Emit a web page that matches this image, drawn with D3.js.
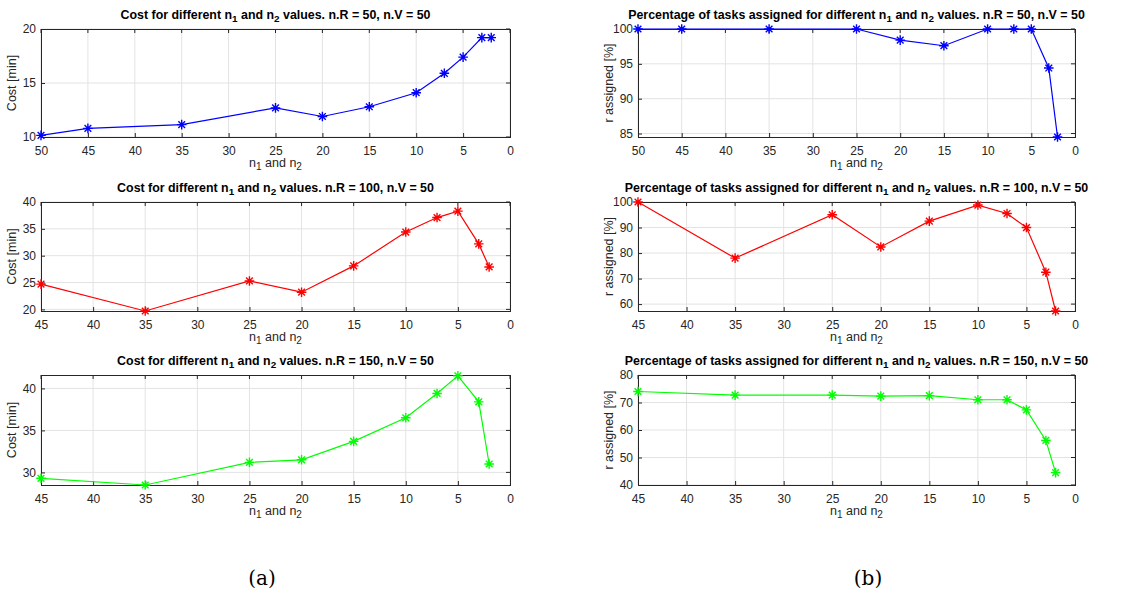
<!DOCTYPE html>
<html lang="en">
<head>
<meta charset="UTF-8">
<title>Cost and percentage assigned</title>
<script src="https://cdn.jsdelivr.net/npm/d3@7"></script>
<style>
    body { margin: 0; background: #fff; }
    text { font-family: 'Liberation Sans', Arial, sans-serif; fill: #262626; }
    .title { font-weight: bold; font-size: 12.4px; fill: #000; }
    .cap { font-family: 'DejaVu Serif', 'Liberation Serif', serif; font-size: 20px; fill: #000; }
</style>
</head>
<body>
<script>
    const width = 1122;
    const height = 595;

    // x values (n1 and n2)
    const nR50 = [50, 45, 35, 25, 20, 15, 10, 7, 5, 3, 2];
    const nRest = [45, 35, 25, 20, 15, 10, 7, 5, 3, 2];

    // cost [min]
    const costR50  = [10.15, 10.8, 11.15, 12.7, 11.9, 12.8, 14.1, 15.9, 17.4, 19.2, 19.2];
    const costR100 = [24.7, 19.7, 25.3, 23.2, 28.1, 34.4, 37.1, 38.3, 32.2, 27.9];
    const costR150 = [29.3, 28.5, 31.2, 31.5, 33.7, 36.5, 39.4, 41.5, 38.4, 31.0];

    // percentage assigned
    const pctR50  = [100, 100, 100, 100, 98.4, 97.6, 100, 100, 100, 94.4, 84.5];
    const pctR100 = [100, 78, 95, 82.4, 92.5, 98.8, 95.5, 90, 72.5, 57.3];
    const pctR150 = [74, 72.7, 72.7, 72.3, 72.5, 71, 71, 67.3, 56.2, 44.5];

    const rTags = ["50", "100", "150"];

    const svg = d3.select("body").append("svg")
        .attr("width", width).attr("height", height);

    const rows = [[29, 137], [202, 311], [375, 485]];
    const cols = [[41, 510], [638, 1075]];

    const panels = [
        {col: 0, row: 0, x: nR50, y: costR50, xmax: 50, ydom: [10, 20], yticks: d3.range(10, 21, 5), color: "#0000ff", kind: "cost", r: rTags[0]},
        {col: 1, row: 0, x: nR50, y: pctR50, xmax: 50, ydom: [84.5, 100], yticks: d3.range(85, 101, 5), color: "#0000ff", kind: "pct", r: rTags[0]},
        {col: 0, row: 1, x: nRest, y: costR100, xmax: 45, ydom: [19.7, 40], yticks: d3.range(20, 41, 5), color: "#ff0000", kind: "cost", r: rTags[1]},
        {col: 1, row: 1, x: nRest, y: pctR100, xmax: 45, ydom: [57.3, 100], yticks: d3.range(60, 101, 10), color: "#ff0000", kind: "pct", r: rTags[1]},
        {col: 0, row: 2, x: nRest, y: costR150, xmax: 45, ydom: [28.5, 41.6], yticks: d3.range(30, 41, 5), color: "#00ff00", kind: "cost", r: rTags[2]},
        {col: 1, row: 2, x: nRest, y: pctR150, xmax: 45, ydom: [40, 80], yticks: d3.range(40, 81, 10), color: "#00ff00", kind: "pct", r: rTags[2]}
    ];

    // MATLAB-like asterisk marker
    function star(s) {
        const d = s * 0.7;
        return `M${-s},0L${s},0M0,${-s}L0,${s}M${-d},${-d}L${d},${d}M${-d},${d}L${d},${-d}`;
    }

    function subText(sel, parts) {
        // parts: array of [text, isSub]
        parts.forEach(p => {
            const t = sel.append("tspan").text(p[0]);
            if (p[1]) t.attr("baseline-shift", "-25%").style("font-size", "0.8em");
        });
    }

    panels.forEach(p => {
        const [x0, x1] = cols[p.col];
        const [y0, y1] = rows[p.row];
        const x = d3.scaleLinear().domain([p.xmax, 0]).range([x0, x1]);
        const y = d3.scaleLinear().domain(p.ydom).range([y1, y0]);
        const xticks = d3.range(0, p.xmax + 1, 5);
        const g = svg.append("g");

        // grid
        g.append("g").selectAll("line").data(xticks).join("line")
            .attr("x1", d => x(d)).attr("x2", d => x(d))
            .attr("y1", y0).attr("y2", y1)
            .attr("stroke", "#e3e3e3").attr("stroke-width", 1);
        g.append("g").selectAll("line").data(p.yticks).join("line")
            .attr("x1", x0).attr("x2", x1)
            .attr("y1", d => y(d)).attr("y2", d => y(d))
            .attr("stroke", "#e3e3e3").attr("stroke-width", 1);

        // axes
        const xa = g.append("g").attr("transform", `translate(0,${y1})`)
            .call(d3.axisBottom(x).tickValues(xticks).tickSizeInner(-4).tickSizeOuter(0).tickPadding(9));
        const ya = g.append("g").attr("transform", `translate(${x0},0)`)
            .call(d3.axisLeft(y).tickValues(p.yticks).tickSizeInner(-4).tickSizeOuter(0).tickPadding(5));
        [xa, ya].forEach(a => {
            a.attr("font-size", null).attr("font-family", null);
            a.select(".domain").remove();
            a.selectAll(".tick line").attr("stroke", "#262626");
            a.selectAll(".tick text").attr("fill", "#262626")
                .style("font-size", "12px");
        });
        // top / right ticks
        g.append("g").selectAll("line").data(xticks).join("line")
            .attr("x1", d => x(d)).attr("x2", d => x(d))
            .attr("y1", y0).attr("y2", y0 + 4).attr("stroke", "#262626");
        g.append("g").selectAll("line").data(p.yticks).join("line")
            .attr("x1", x1).attr("x2", x1 - 4)
            .attr("y1", d => y(d)).attr("y2", d => y(d)).attr("stroke", "#262626");

        g.append("rect")
            .attr("x", x0 + 0.5).attr("y", y0 + 0.5)
            .attr("width", x1 - x0).attr("height", y1 - y0)
            .attr("fill", "none").attr("stroke", "#262626").attr("stroke-width", 1);

        // series
        const pts = p.x.map((v, i) => [v, p.y[i]]);
        const line = d3.line().x(d => x(d[0])).y(d => y(d[1]));
        g.append("path").attr("d", line(pts))
            .attr("fill", "none").attr("stroke", p.color).attr("stroke-width", 1.2);
        g.selectAll(".pt").data(pts).join("path").attr("class", "pt")
            .attr("d", star(4.8))
            .attr("transform", d => `translate(${x(d[0])},${y(d[1])})`)
            .attr("stroke", p.color).attr("stroke-width", 1.4);

        // title
        const cx = (x0 + x1) / 2;
        const pre = p.kind === "cost" ? "Cost for different " : "Percentage of tasks assigned for different ";
        const tt = g.append("text").attr("class", "title")
            .attr("x", cx).attr("y", y0 - 10).attr("text-anchor", "middle");
        subText(tt, [[pre + "n", false], ["1", true], [" and n", false], ["2", true],
            [` values. n.R = ${p.r}, n.V = 50`, false]]);

        // x label
        const xl = g.append("text").style("font-size", "12.5px")
            .attr("x", cx).attr("y", y1 + 30).attr("text-anchor", "middle");
        subText(xl, [["n", false], ["1", true], [" and n", false], ["2", true]]);

        // y label
        g.append("text").style("font-size", "12.5px")
            .attr("transform", `translate(${x0 - 25},${(y0 + y1) / 2}) rotate(-90)`)
            .attr("text-anchor", "middle")
            .text(p.kind === "cost" ? "Cost [min]" : "r assigned [%]");
    });

    svg.append("text").attr("class", "cap").attr("x", 262).attr("y", 585)
        .attr("text-anchor", "middle").text("(a)");
    svg.append("text").attr("class", "cap").attr("x", 868).attr("y", 585)
        .attr("text-anchor", "middle").text("(b)");
</script>
</body>
</html>
